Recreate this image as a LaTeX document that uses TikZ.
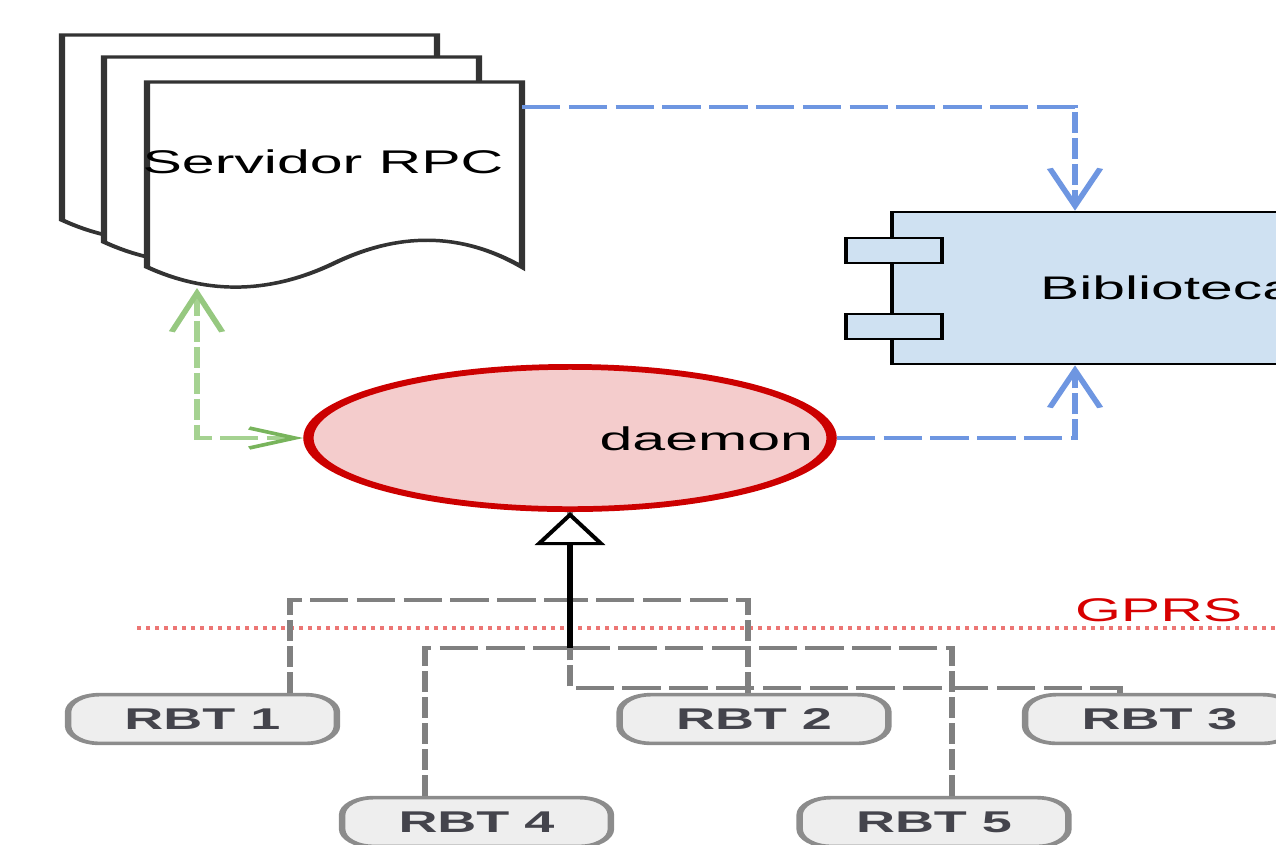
\documentclass[tikz,border=0pt]{standalone}
\usepackage{fontspec}
\setmainfont{Liberation Sans}
\usetikzlibrary{arrows.meta,shapes.geometric,calc}
\definecolor{docline}{RGB}{51,51,51}
\definecolor{bibfill}{RGB}{207,225,242}
\definecolor{dmfill}{RGB}{244,204,204}
\definecolor{dmline}{RGB}{204,0,0}
\definecolor{blueln}{RGB}{110,150,225}
\definecolor{greenln}{RGB}{165,210,145}
\definecolor{greentipa}{RGB}{150,200,128}
\definecolor{greentip}{RGB}{120,180,92}
\definecolor{grayln}{RGB}{128,128,128}
\definecolor{rbtline}{RGB}{140,140,140}
\definecolor{rbtfill}{RGB}{238,238,238}
\definecolor{rbttext}{RGB}{68,68,76}
\definecolor{gprsred}{RGB}{215,0,0}
\definecolor{gprsdot}{RGB}{236,118,116}
\tikzset{
  docshape/.style={draw=docline, line width=2.6pt, fill=white, line join=miter},
  srvbox/.style={rectangle, minimum width=156.25pt, minimum height=138.75pt, inner sep=0pt, outer sep=0pt},
  lbl/.style={font=\fontsize{24.6}{29}\selectfont, inner sep=0pt, outer sep=0pt},
  bibbox/.style={rectangle, draw=black, fill=bibfill, line width=2pt, minimum width=229.6pt, minimum height=114pt, inner sep=0pt, font=\fontsize{24.5}{29}\selectfont},
  port/.style={rectangle, draw=black, fill=bibfill, line width=2pt, minimum width=40pt, minimum height=18.75pt, inner sep=0pt},
  dmnode/.style={ellipse, draw=dmline, fill=dmfill, line width=4.3pt, minimum width=218pt, minimum height=106.7pt, inner sep=0pt},
  rbtbox/.style={rectangle, rounded corners=13pt, draw=rbtline, fill=rbtfill, line width=2.7pt, minimum width=112pt, minimum height=36.5pt, inner sep=0pt, font=\fontsize{22.5}{26}\selectfont\bfseries, text=rbttext},
  bluearr/.style={draw=blueln, line width=2.6pt, dash pattern=on 16pt off 3.5pt, -{Straight Barb[length=28pt,width=21pt]}},
  greenarr/.style={draw=greenln, line width=2.6pt, dash pattern=on 16pt off 3.5pt,
     {Straight Barb[length=29pt,width=21pt,color=greentipa]}-{Straight Barb[length=19pt,width=15pt,color=greentip]}},
  grayedge/.style={draw=grayln, line width=2.3pt, dash pattern=on 16pt off 3.5pt},
  genarrow/.style={draw=black, line width=2.1pt, -{Triangle[length=24.75pt,width=29pt,fill=white]}},
  gprsline/.style={draw=gprsdot, line width=3pt, dash pattern=on 1.8pt off 1.95pt},
}
\newcommand{\srvdoc}[1]{%
  \draw[docshape, shift={#1}] (147,82) -- (522,82) -- (522,267)
    .. controls (459.5,231) and (397,233) .. (334.5,263)
    .. controls (272,293) and (209.5,295.7) .. (147,267) -- cycle;}
\begin{document}
\begin{tikzpicture}
\path[use as bounding box] (0pt,0pt) rectangle (957pt,-633pt);
\clip (0pt,0pt) rectangle (957pt,-633pt);
\begin{scope}[transform canvas={xscale=1.8}, x=0.416667pt, y=-0.75pt]
  % Servidor RPC stack
  \srvdoc{(-85,-47)}
  \srvdoc{(-43,-25)}
  \srvdoc{(0,0)}
  \node[srvbox] (srv) at (334.5,174.5) {};
  \node[lbl, anchor=base] (srvtxt) at (323,173) {Servidor RPC};

  % Biblioteca component
  \node[bibbox] (bib) at (1167.5,288) {Biblioteca};
  \node[port] (port1) at (894,250.5) {};
  \node[port] (port2) at (894,326.5) {};

  % daemon
  \node[dmnode] (dm) at (570,438) {};
  \node[lbl, anchor=base east] (dmtxt) at (813,450) {daemon};

  % GPRS separator
  \draw[gprsline] (137,628) -- (1290,628);
  \node[lbl, anchor=base west, text=gprsred] (gprs) at (1075,621) {GPRS};

  % RBT nodes
  \node[rbtbox] (rbt1) at (202.5,719) {RBT 1};
  \node[rbtbox] (rbt2) at (754,719) {RBT 2};
  \node[rbtbox] (rbt3) at (1159.5,719) {RBT 3};
  \node[rbtbox] (rbt4) at (476.5,822) {RBT 4};
  \node[rbtbox] (rbt5) at (934,822) {RBT 5};

  % RBT edges (dashed)
  \draw[grayedge] (rbt1.north -| 290,0) |- (dm.south |- 0,600) -- (dm.south);
  \draw[grayedge] (rbt2.north -| 748,0) |- (dm.south |- 0,600) -- (dm.south);
  \draw[grayedge] (rbt4.north -| 425,0) |- (dm.south |- 0,648) -- (dm.south);
  \draw[grayedge] (rbt5.north -| 952,0) |- (dm.south |- 0,648) -- (dm.south);
  \draw[grayedge] (rbt3.north -| 1120,0) |- (dm.south |- 0,688) -- (dm.south);
  \coordinate (gjoin) at (dm.south |- 0,648);
  \draw[genarrow] (gjoin) -- (dm.south);

  % blue dependencies
  \draw[bluearr] (srv.east |- 0,107) -| (bib.north -| 1075,0);
  \draw[bluearr] (dm.east) -| (bib.south -| 1075,0);

  % green link
  \draw[greenarr] ($(srv.south -| 197,0)+(0,21)$) |- (dm.west);
\end{scope}
\end{tikzpicture}
\end{document}
